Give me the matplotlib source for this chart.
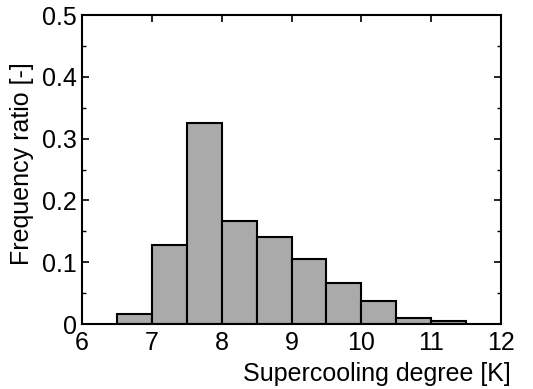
import matplotlib.pyplot as plt
from matplotlib.ticker import MultipleLocator

# histogram of supercooling degree, bins of 0.5 K
bin_left = [6.5, 7.0, 7.5, 8.0, 8.5, 9.0, 9.5, 10.0, 10.5, 11.0]
freq = [0.016, 0.128, 0.325, 0.167, 0.141, 0.105, 0.067, 0.038, 0.009, 0.005]

plt.rcParams['font.family'] = ['Liberation Sans', 'DejaVu Sans']

fig = plt.figure(figsize=(5.33, 3.89), dpi=100)
ax = fig.add_axes([0.154, 0.167, 0.786, 0.794])

ax.bar(bin_left, freq, width=0.5, align='edge', color='#aaaaaa',
       edgecolor='black', linewidth=1.5)

ax.set_xlim(6, 12)
ax.set_ylim(0, 0.5)
ax.set_xticks(range(6, 13))
ax.set_yticks([0, 0.1, 0.2, 0.3, 0.4, 0.5])
ax.set_yticklabels(['0', '0.1', '0.2', '0.3', '0.4', '0.5'])
ax.yaxis.set_minor_locator(MultipleLocator(0.05))
ax.tick_params(direction='in', top=True, right=True, labelsize=18,
               length=5, width=1.2)
ax.tick_params(which='minor', direction='in', right=True, length=3, width=1.0)
ax.tick_params(axis='x', pad=5)
ax.tick_params(axis='y', pad=4)
for s in ax.spines.values():
    s.set_linewidth(1.5)

fig.text(511 / 533, 1 - 374 / 389, 'Supercooling degree [K]', ha='right',
         va='center', fontsize=18)
fig.text(22 / 533, 1 - 164 / 389, 'Frequency ratio [-]', rotation=90,
         ha='center', va='center', fontsize=18)

fig.savefig('out.png', dpi=100)
